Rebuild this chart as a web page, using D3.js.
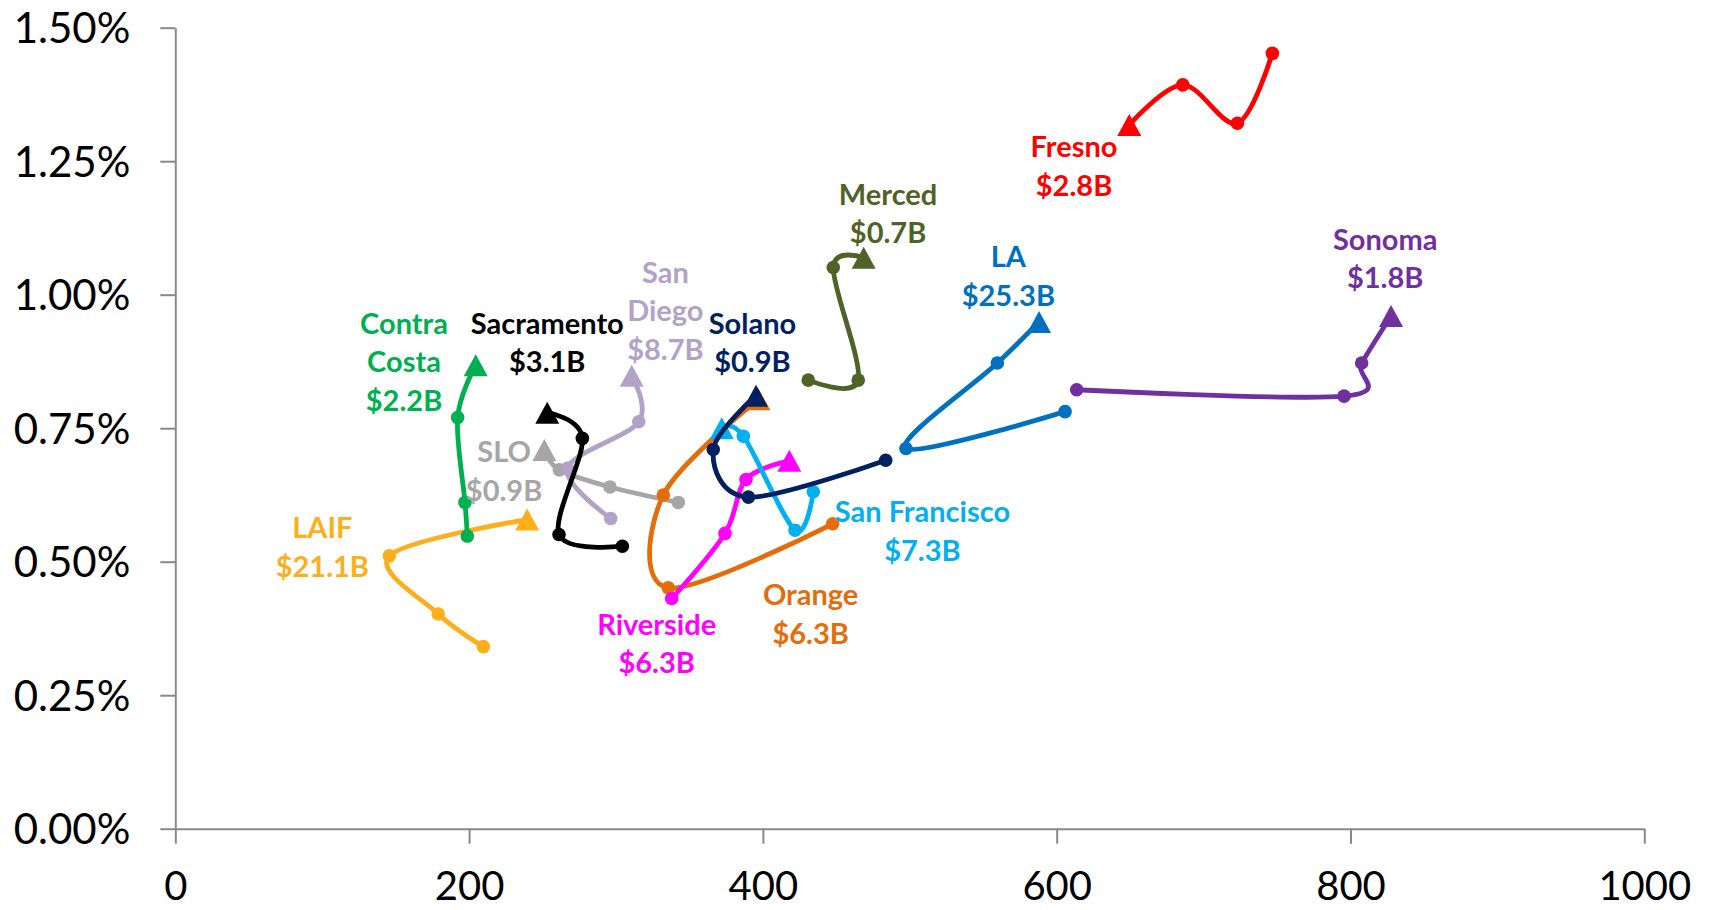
<!DOCTYPE html>
<html>
<head>
<meta charset="utf-8">
<script src="https://cdn.jsdelivr.net/npm/d3@7"></script>
<style>
  html, body { margin: 0; padding: 0; background: #fff; }
  svg { display: block; }
  text { font-family: Lato, "Open Sans", sans-serif; }
</style>
</head>
<body>
<svg id="chart" width="1709" height="910"></svg>
<script>
// ---- Data (x = balance-like measure, y = yield %) ----
const seriesNames = ["LAIF", "Contra Costa", "SLO", "San Diego", "Sacramento", "Orange",
  "Riverside", "San Francisco", "Solano", "LA", "Merced", "Sonoma", "Fresno"];
const seriesColors = ["#FCAF1B", "#00B050", "#A6A6A6", "#B3A2C7", "#000000", "#E46C0A",
  "#FF00FF", "#00B0F0", "#002060", "#0070C0", "#4F6228", "#7030A0", "#FF0000"];

const laifX = [209.7, 179.0, 145.7, 239.5];
const laifY = [0.341, 0.402, 0.511, 0.579];
const contraX = [198.8, 197.2, 192.2, 204.5];
const contraY = [0.548, 0.611, 0.770, 0.868];
const sloX = [342.4, 295.9, 261.4, 251.2];
const sloY = [0.611, 0.640, 0.672, 0.709];
const sandiegoX = [296.4, 266.9, 315.5, 310.7];
const sandiegoY = [0.581, 0.675, 0.762, 0.848];
const sacramentoX = [304.3, 261.2, 277.1, 253.2];
const sacramentoY = [0.529, 0.551, 0.731, 0.779];
const orangeX = [447.5, 335.6, 332.2, 396.9];
const orangeY = [0.571, 0.451, 0.625, 0.804];
const riversideX = [337.9, 374.2, 388.5, 418.0];
const riversideY = [0.431, 0.553, 0.654, 0.689];
const sfX = [434.3, 421.9, 386.7, 372.0];
const sfY = [0.631, 0.559, 0.735, 0.750];
const solanoX = [483.6, 390.1, 366.2, 395.3];
const solanoY = [0.690, 0.621, 0.710, 0.811];
const laX = [605.7, 497.4, 559.6, 588.0];
const laY = [0.781, 0.712, 0.872, 0.949];
const mercedX = [430.9, 464.9, 447.9, 468.6];
const mercedY = [0.840, 0.840, 1.051, 1.069];
const sonomaX = [613.6, 795.6, 807.6, 827.6];
const sonomaY = [0.822, 0.810, 0.872, 0.960];
const fresnoX = [746.8, 723.0, 685.8, 649.4];
const fresnoY = [1.452, 1.321, 1.393, 1.318];

const seriesXs = [laifX, contraX, sloX, sandiegoX, sacramentoX, orangeX, riversideX, sfX, solanoX, laX, mercedX, sonomaX, fresnoX];
const seriesYs = [laifY, contraY, sloY, sandiegoY, sacramentoY, orangeY, riversideY, sfY, solanoY, laY, mercedY, sonomaY, fresnoY];

// Labels: text lines and anchor (data units) for first line centre
const labelLines = [
  ["LAIF", "$21.1B"], ["Contra", "Costa", "$2.2B"], ["SLO", "$0.9B"], ["San", "Diego", "$8.7B"],
  ["Sacramento", "$3.1B"], ["Orange", "$6.3B"], ["Riverside", "$6.3B"], ["San Francisco", "$7.3B"],
  ["Solano", "$0.9B"], ["LA", "$25.3B"], ["Merced", "$0.7B"], ["Sonoma", "$1.8B"], ["Fresno", "$2.8B"]
];
const labelAnchorX = [100.1, 155.7, 223.8, 333.6, 253.2, 432.5, 327.7, 508.6, 392.9, 567.1, 485.2, 823.6, 611.8];
const labelAnchorY = [0.563, 0.946, 0.706, 1.042, 0.946, 0.438, 0.383, 0.593, 0.946, 1.071, 1.188, 1.104, 1.277];

const xTicks = [0, 200, 400, 600, 800, 1000];
const yTicks = [0, 0.25, 0.5, 0.75, 1.0, 1.25, 1.5];

// ---- Chart ----
const svg = d3.select("#chart");
const x = d3.scaleLinear().domain([0, 1000]).range([175.3, 1644.3]);
const y = d3.scaleLinear().domain([0, 1.5]).range([828.7, 27.7]);

const axisColor = "#898989";

const gx = svg.append("g").attr("transform", `translate(0,${y(0)})`)
  .call(d3.axisBottom(x).tickValues(xTicks).tickSize(15).tickSizeOuter(0).tickPadding(28).tickFormat(d3.format("d")));
const gy = svg.append("g").attr("transform", `translate(${x(0)},0)`)
  .call(d3.axisLeft(y).tickValues(yTicks).tickSize(15).tickSizeOuter(0).tickPadding(30).tickFormat(d => d.toFixed(2) + "%"));

[gx, gy].forEach(g => {
  g.select(".domain").attr("stroke", axisColor).attr("stroke-width", 2);
  g.selectAll(".tick line").attr("stroke", axisColor).attr("stroke-width", 2);
  g.selectAll(".tick text").attr("fill", "#000").style("font-family", "Lato, 'Open Sans', sans-serif");
});
gx.selectAll(".tick text").style("font-size", "40px");
gy.selectAll(".tick text").style("font-size", "42px").attr("dy", "0.36em");

const line = d3.line().x(d => x(d[0])).y(d => y(d[1])).curve(d3.curveCatmullRom.alpha(0));

seriesNames.forEach((name, i) => {
  const pts = seriesXs[i].map((v, j) => [v, seriesYs[i][j]]);
  const color = seriesColors[i];
  const g = svg.append("g").attr("class", "series");
  g.append("path").datum(pts).attr("d", line)
    .attr("fill", "none").attr("stroke", color).attr("stroke-width", 4.8)
    .attr("stroke-linejoin", "round").attr("stroke-linecap", "round");
  g.selectAll("circle").data(pts.slice(0, -1)).join("circle")
    .attr("cx", d => x(d[0])).attr("cy", d => y(d[1])).attr("r", 6.8).attr("fill", color);
  const last = pts[pts.length - 1];
  const cx = x(last[0]), cy = y(last[1]);
  const w = 24, h = 22;
  g.append("path")
    .attr("d", `M${cx},${cy - h / 2}L${cx + w / 2},${cy + h / 2}L${cx - w / 2},${cy + h / 2}Z`)
    .attr("fill", color);
});

// Labels
seriesNames.forEach((name, i) => {
  const t = svg.append("text")
    .attr("x", x(labelAnchorX[i])).attr("y", y(labelAnchorY[i]))
    .attr("text-anchor", "middle").attr("fill", seriesColors[i])
    .style("font-weight", "bold").style("font-size", "29px");
  labelLines[i].forEach((ln, k) => {
    t.append("tspan").attr("x", x(labelAnchorX[i])).attr("dy", k === 0 ? "0.36em" : "38.5px").text(ln);
  });
});
</script>
</body>
</html>
